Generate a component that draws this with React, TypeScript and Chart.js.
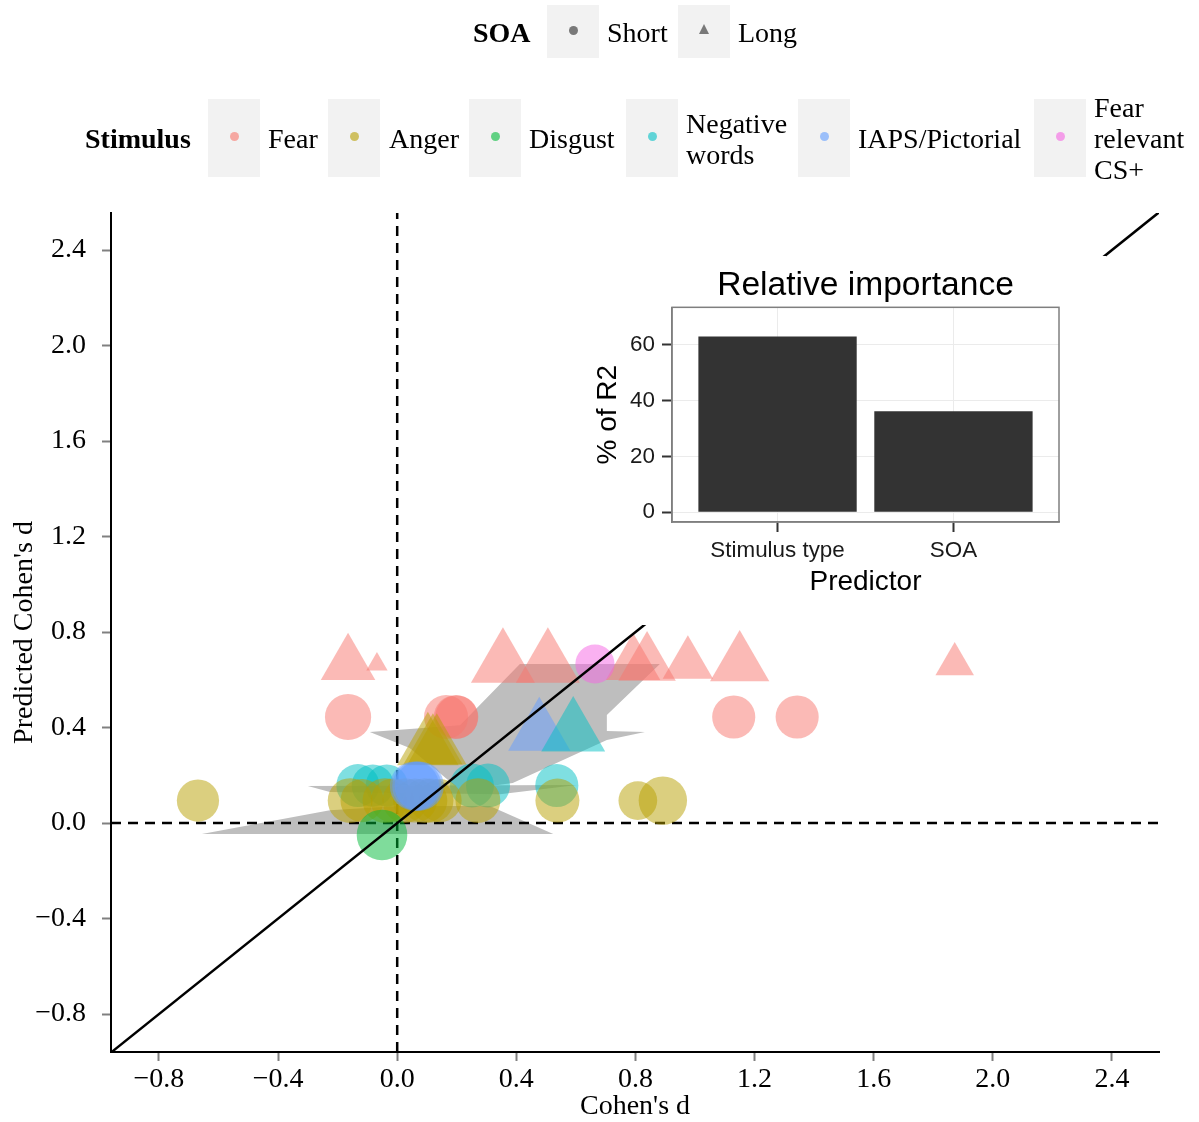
import React, { useEffect, useRef } from 'react';
import { Chart, registerables } from 'chart.js';

Chart.register(...registerables);

const SERIF = '"Liberation Serif", "Times New Roman", serif';
const SANS = '"Liberation Sans", Arial, sans-serif';

// ---------- main axes ----------
const xAxisMin = -0.961;
const xAxisMax = 2.558;
const yAxisMin = -0.959;
const yAxisMax = 2.555;
const axisTicks = [-0.8, -0.4, 0, 0.4, 0.8, 1.2, 1.6, 2.0, 2.4];

// ---------- categories ----------
const stimuli = ['Fear', 'Anger', 'Disgust', 'Negative words', 'IAPS/Pictorial', 'Fear relevant CS+'];
const stimulusColors = ['#F8766D', '#B79F00', '#00BA38', '#00BFC4', '#619CFF', '#F564E3'];
const soaLevels = ['Short', 'Long'];
const stimulusLegendLines = [['Fear'], ['Anger'], ['Disgust'], ['Negative', 'words'], ['IAPS/Pictorial'], ['Fear', 'relevant', 'CS+']];

// ---------- observed d (x), predicted d (y), relative weight ----------
const fearShortObs = [-0.165, 0.164, 0.197, 0.2, 1.13, 1.343];
const fearShortPred = 0.444;
const fearShortWeight = [1.05, 1.0, 1.0, 0.98, 0.98, 0.98];

const fearLongObs = [-0.165, -0.068, 0.355, 0.506, 0.792, 0.839, 0.976, 1.15, 1.872];
const fearLongPred = 0.665;
const fearLongWeight = [0.92, 0.36, 1.08, 1.08, 0.92, 0.97, 0.85, 1.0, 0.65];

const angerShortObs = [-0.669, -0.158, -0.118, -0.041, -0.015, 0.026, 0.06, 0.093, 0.115, 0.144, 0.271, 0.538, 0.808, 0.892];
const angerShortPred = 0.094;
const angerShortWeight = [0.96, 1.02, 0.98, 1.02, 1.0, 1.02, 1.0, 1.02, 1.0, 0.98, 1.02, 1.0, 0.88, 1.1];

const angerLongObs = [0.103, 0.12, 0.133];
const angerLongPred = 0.317;
const angerLongWeight = [1.04, 1.0, 1.0];

const disgustShortObs = [-0.051];
const disgustShortPred = -0.05;
const disgustShortWeight = [1.15];

const negWordsShortObs = [-0.132, -0.082, -0.035, 0.251, 0.305, 0.536];
const negWordsShortPred = 0.157;
const negWordsShortWeight = [0.98, 0.96, 0.96, 1.0, 1.0, 0.98];

const negWordsLongObs = [0.591];
const negWordsLongPred = 0.377;
const negWordsLongWeight = [1.08];

const iapsShortObs = [0.058, 0.066, 0.074];
const iapsShortPred = 0.155;
const iapsShortWeight = [1.12, 1.12, 1.12];

const iapsLongObs = [0.477];
const iapsLongPred = 0.378;
const iapsLongWeight = [1.05];

const csShortObs = [0.664];
const csShortPred = 0.666;
const csShortWeight = [0.89];

// ---------- grey prediction bands (data units) ----------
const bandAX = [-0.092, 0.211, 0.412, 0.882, 0.704, 0.704, 0.832, 0.704, 0.388, 0.211, 0.042];
const bandAY = [0.381, 0.410, 0.666, 0.666, 0.452, 0.385, 0.381, 0.348, 0.168, 0.138, 0.314];
const bandBX = [-0.300, 0.603, 0.345, -0.226];
const bandBY = [0.155, 0.159, 0.121, 0.130];
const bandCX = [-0.656, -0.226, 0.009, 0.311, 0.524];
const bandCY = [-0.046, 0.054, 0.071, 0.071, -0.046];

// ---------- inset ----------
const predictorLabels = ['Stimulus type', 'SOA'];
const importanceValues = [63.0, 36.2];
const importanceTicks = [0, 20, 40, 60];

function rgba(hex: string, a: number) {
  const n = parseInt(hex.slice(1), 16);
  return `rgba(${(n >> 16) & 255},${(n >> 8) & 255},${n & 255},${a})`;
}

function fmtTick(v: number) {
  const a = Math.abs(v) < 1e-9 ? 0 : v;
  return (a < 0 ? '\u2212' : '') + Math.abs(a).toFixed(1);
}

const ALPHA = 0.5;
const BASE_R = 22;

function pointSet(stim: number, soa: number, obs: number[], pred: number, weight: number[]) {
  const tri = soa === 1;
  return {
    type: 'scatter' as const,
    label: stimuli[stim] + ' / ' + soaLevels[soa],
    data: obs.map((x) => ({ x, y: pred })),
    pointStyle: tri ? 'triangle' : 'circle',
    pointRadius: weight.map((w) => (tri ? 1.555 : 1) * BASE_R * w),
    backgroundColor: rgba(stimulusColors[stim], ALPHA),
    borderWidth: 0,
    pointBorderWidth: 0,
    showLine: false,
  };
}

function lineSet(pts: { x: number; y: number }[], dash: number[]) {
  return {
    type: 'scatter' as const,
    data: pts,
    showLine: true,
    borderColor: '#000',
    borderWidth: 2.5,
    borderDash: dash,
    pointRadius: 0,
    fill: false,
  };
}

const bandPlugin = {
  id: 'bands',
  beforeDatasetsDraw(chart: any) {
    const { ctx, chartArea, scales } = chart;
    const xs = scales.x;
    const ys = scales.y;
    const polys = [
      [bandAX, bandAY],
      [bandBX, bandBY],
      [bandCX, bandCY],
    ];
    ctx.save();
    ctx.beginPath();
    ctx.rect(chartArea.left, chartArea.top, chartArea.right - chartArea.left, chartArea.bottom - chartArea.top);
    ctx.clip();
    ctx.fillStyle = '#bebebe';
    for (const [px, py] of polys) {
      ctx.beginPath();
      px.forEach((v: number, i: number) => {
        const X = xs.getPixelForValue(v);
        const Y = ys.getPixelForValue(py[i]);
        if (i === 0) ctx.moveTo(X, Y);
        else ctx.lineTo(X, Y);
      });
      ctx.closePath();
      ctx.fill();
    }
    ctx.restore();
  },
};

const panelBorderPlugin = {
  id: 'panelBorder',
  afterDraw(chart: any) {
    const { ctx, chartArea } = chart;
    ctx.save();
    ctx.strokeStyle = '#7f7f7f';
    ctx.lineWidth = 1.5;
    ctx.strokeRect(chartArea.left, chartArea.top, chartArea.right - chartArea.left, chartArea.bottom - chartArea.top);
    ctx.restore();
  },
};

function MainChart() {
  const ref = useRef<HTMLCanvasElement>(null);
  useEffect(() => {
    if (!ref.current) return;
    // bottom-most first, then reversed (Chart.js draws dataset 0 on top)
    const bottomToTop: any[] = [
      lineSet([{ x: 0, y: yAxisMin }, { x: 0, y: yAxisMax }], [10, 7]),
      lineSet([{ x: xAxisMin, y: 0 }, { x: xAxisMax, y: 0 }], [10, 7]),
      pointSet(0, 1, fearLongObs, fearLongPred, fearLongWeight),
      pointSet(0, 0, fearShortObs, fearShortPred, fearShortWeight),
      pointSet(3, 0, negWordsShortObs, negWordsShortPred, negWordsShortWeight),
      pointSet(1, 1, angerLongObs, angerLongPred, angerLongWeight),
      pointSet(1, 0, angerShortObs, angerShortPred, angerShortWeight),
      pointSet(2, 0, disgustShortObs, disgustShortPred, disgustShortWeight),
      pointSet(4, 1, iapsLongObs, iapsLongPred, iapsLongWeight),
      pointSet(3, 1, negWordsLongObs, negWordsLongPred, negWordsLongWeight),
      pointSet(4, 0, iapsShortObs, iapsShortPred, iapsShortWeight),
      pointSet(5, 0, csShortObs, csShortPred, csShortWeight),
      lineSet([{ x: xAxisMin, y: xAxisMin }, { x: xAxisMax, y: xAxisMax }], []),
    ];
    const chart = new Chart(ref.current, {
      type: 'scatter',
      data: { datasets: bottomToTop.reverse() },
      plugins: [bandPlugin],
      options: {
        animation: false,
        responsive: false,
        events: [],
        layout: { padding: { left: 0, right: 40, top: 213, bottom: 0 } },
        plugins: { legend: { display: false }, tooltip: { enabled: false } },
        scales: {
          x: {
            type: 'linear',
            min: xAxisMin,
            max: xAxisMax,
            afterBuildTicks: (s: any) => {
              s.ticks = axisTicks.map((v) => ({ value: v }));
            },
            afterFit: (s: any) => {
              s.height = 70;
            },
            grid: { drawOnChartArea: false, drawTicks: true, tickLength: 9, tickColor: '#808080', tickWidth: 2 },
            border: { display: true, color: '#000', width: 2 },
            ticks: {
              font: { family: SERIF, size: 28 },
              color: '#000',
              padding: 2,
              maxRotation: 0,
              autoSkip: false,
              callback: (v: any) => fmtTick(Number(v)),
            },
            title: {
              display: true,
              text: "Cohen's d",
              color: '#000',
              font: { family: SERIF, size: 28, lineHeight: 1 },
              padding: { top: 0, bottom: 1 },
            },
          },
          y: {
            type: 'linear',
            min: yAxisMin,
            max: yAxisMax,
            afterBuildTicks: (s: any) => {
              s.ticks = axisTicks.map((v) => ({ value: v }));
            },
            afterFit: (s: any) => {
              s.width = 111;
            },
            grid: { drawOnChartArea: false, drawTicks: true, tickLength: 9, tickColor: '#808080', tickWidth: 2 },
            border: { display: true, color: '#000', width: 2 },
            ticks: {
              font: { family: SERIF, size: 28 },
              color: '#000',
              padding: 16,
              autoSkip: false,
              callback: (v: any) => fmtTick(Number(v)),
            },
            title: {
              display: true,
              text: "Predicted Cohen's d",
              color: '#000',
              font: { family: SERIF, size: 28, lineHeight: 1 },
              padding: { top: 11, bottom: 0 },
            },
          },
        },
      } as any,
    });
    return () => chart.destroy();
  }, []);
  return (
    <canvas
      ref={ref}
      width={1199}
      height={1122}
      style={{ position: 'absolute', left: 0, top: 0, width: 1199, height: 1122, display: 'block' }}
    />
  );
}

function InsetChart() {
  const ref = useRef<HTMLCanvasElement>(null);
  useEffect(() => {
    if (!ref.current) return;
    const chart = new Chart(ref.current, {
      type: 'bar',
      data: {
        datasets: [
          {
            data: importanceValues.map((v, i) => ({ x: i, y: v })),
            backgroundColor: '#333333',
            borderWidth: 0,
            barPercentage: 0.9,
            categoryPercentage: 1,
          },
        ],
      },
      plugins: [panelBorderPlugin],
      options: {
        animation: false,
        responsive: false,
        events: [],
        layout: { padding: { left: 0, right: 47, top: 0, bottom: 0 } },
        plugins: {
          legend: { display: false },
          tooltip: { enabled: false },
          title: {
            display: true,
            text: 'Relative importance',
            color: '#000',
            fullSize: false,
            font: { family: SANS, size: 33.6, lineHeight: 1.2, weight: 'normal' },
            padding: { top: 10, bottom: 1 },
          },
        },
        scales: {
          x: {
            type: 'linear',
            min: -0.6,
            max: 1.6,
            offset: false,
            afterBuildTicks: (s: any) => {
              s.ticks = predictorLabels.map((_, i) => ({ value: i }));
            },
            afterFit: (s: any) => {
              s.height = 103;
            },
            grid: { offset: false, color: '#ebebeb', lineWidth: 1, drawTicks: true, tickLength: 10, tickColor: '#333', tickWidth: 2 },
            border: { display: true, color: '#7f7f7f', width: 1.5 },
            ticks: {
              font: { family: SANS, size: 22.4 },
              color: '#1a1a1a',
              padding: 5,
              maxRotation: 0,
              autoSkip: false,
              callback: (v: any) => predictorLabels[Math.round(Number(v))] ?? '',
            },
            title: {
              display: true,
              text: 'Predictor',
              color: '#000',
              font: { family: SANS, size: 28, lineHeight: 1 },
              padding: { top: 0, bottom: 29 },
            },
          },
          y: {
            type: 'linear',
            min: -3.5,
            max: 73.5,
            afterBuildTicks: (s: any) => {
              s.ticks = importanceTicks.map((v) => ({ value: v }));
            },
            afterFit: (s: any) => {
              s.width = 87;
            },
            grid: { color: '#ebebeb', lineWidth: 1, drawTicks: true, tickLength: 10, tickColor: '#333', tickWidth: 2 },
            border: { display: true, color: '#7f7f7f', width: 1.5 },
            ticks: {
              font: { family: SANS, size: 22.4 },
              color: '#1a1a1a',
              padding: 7,
              autoSkip: false,
              callback: (v: any) => String(v),
            },
            title: {
              display: true,
              text: '% of R2',
              color: '#000',
              font: { family: SANS, size: 28, lineHeight: 1 },
              padding: { top: 9, bottom: 0 },
            },
          },
        },
      } as any,
    });
    return () => chart.destroy();
  }, []);
  return (
    <canvas
      ref={ref}
      width={521}
      height={369}
      style={{ position: 'absolute', left: 585, top: 256, width: 521, height: 369, background: '#fff', display: 'block' }}
    />
  );
}

const textBase: React.CSSProperties = {
  position: 'absolute',
  fontFamily: SERIF,
  fontSize: 28,
  lineHeight: '31px',
  color: '#000',
  whiteSpace: 'nowrap',
};

const keyBox = (left: number, top: number, h: number): React.CSSProperties => ({
  position: 'absolute',
  left,
  top,
  width: 52,
  height: h,
  background: '#f2f2f2',
});

// legend layout (pixels)
const soaKeyLeft = [547, 678];
const soaLabelLeft = [607, 738];
const stimKeyLeft = [208, 328, 469, 626, 798, 1034];
const stimLabelLeft = [268, 389, 529, 686, 858, 1094];

function Legend() {
  return (
    <>
      <div style={{ ...textBase, left: 473, top: 17, fontWeight: 'bold' }}>SOA</div>
      {soaLevels.map((lab, i) => (
        <React.Fragment key={lab}>
          <div style={keyBox(soaKeyLeft[i], 5, 53)}>
            {i === 0 ? (
              <div
                style={{
                  position: 'absolute',
                  left: 21.5,
                  top: 20.5,
                  width: 9,
                  height: 9,
                  borderRadius: '50%',
                  background: 'rgba(0,0,0,0.5)',
                }}
              />
            ) : (
              <div
                style={{
                  position: 'absolute',
                  left: 20.5,
                  top: 19,
                  width: 0,
                  height: 0,
                  borderLeft: '5.5px solid transparent',
                  borderRight: '5.5px solid transparent',
                  borderBottom: '10px solid rgba(0,0,0,0.5)',
                }}
              />
            )}
          </div>
          <div style={{ ...textBase, left: soaLabelLeft[i], top: 17 }}>{lab}</div>
        </React.Fragment>
      ))}
      <div style={{ ...textBase, left: 85, top: 123, fontWeight: 'bold' }}>Stimulus</div>
      {stimuli.map((s, i) => {
        const lines = stimulusLegendLines[i];
        const top = 123 - ((lines.length - 1) * 31) / 2;
        return (
          <React.Fragment key={s}>
            <div style={keyBox(stimKeyLeft[i], 99, 78)}>
              <div
                style={{
                  position: 'absolute',
                  left: 21.5,
                  top: 32.5,
                  width: 9,
                  height: 9,
                  borderRadius: '50%',
                  background: rgba(stimulusColors[i], 0.6),
                }}
              />
            </div>
            <div style={{ ...textBase, left: stimLabelLeft[i], top }}>
              {lines.map((l, j) => (
                <div key={j}>{l}</div>
              ))}
            </div>
          </React.Fragment>
        );
      })}
    </>
  );
}

export default function App() {
  return (
    <div style={{ position: 'absolute', left: 0, top: 0, width: 1199, height: 1122, background: '#fff', overflow: 'hidden' }}>
      <MainChart />
      <InsetChart />
      <Legend />
    </div>
  );
}
